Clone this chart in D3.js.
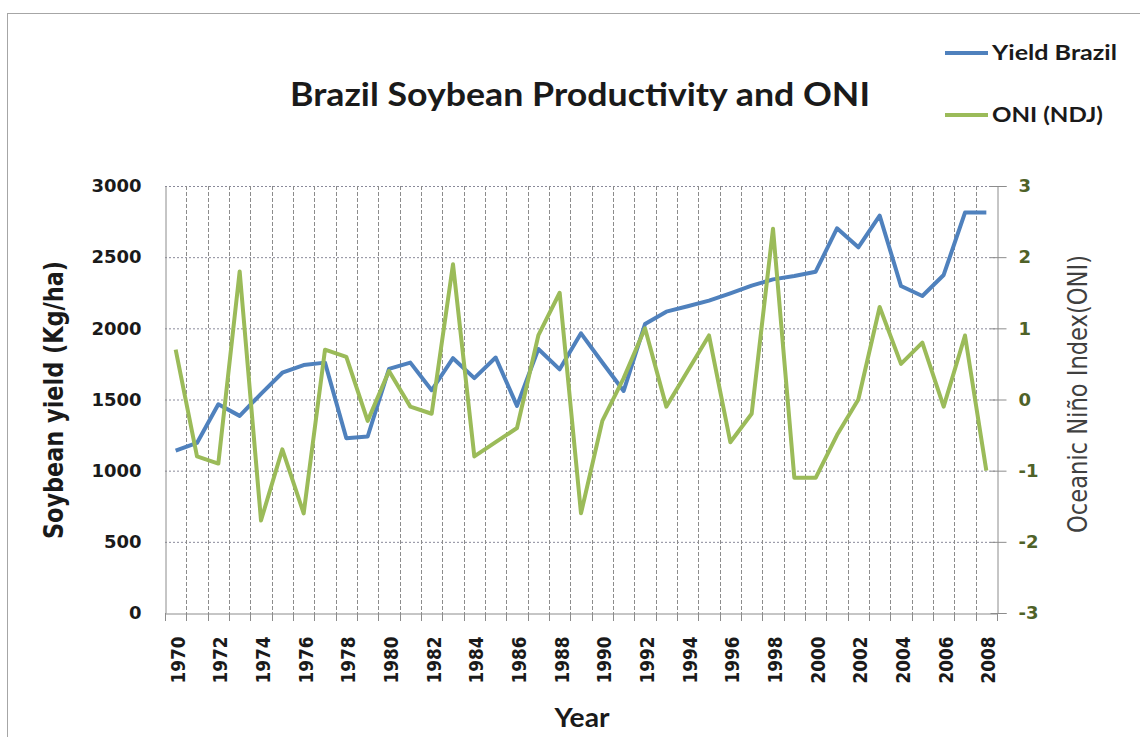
<!DOCTYPE html>
<html>
<head>
<meta charset="utf-8">
<script src="https://cdn.jsdelivr.net/npm/d3@7"></script>
<style>
  body { margin: 0; background: #fff; }
  svg { display: block; }
</style>
</head>
<body>
<svg id="chart" width="1140" height="737"></svg>
<script>
// categories
let years = [1970, 1971, 1972, 1973, 1974, 1975, 1976, 1977, 1978, 1979,
    1980, 1981, 1982, 1983, 1984, 1985, 1986, 1987, 1988, 1989,
    1990, 1991, 1992, 1993, 1994, 1995, 1996, 1997, 1998, 1999,
    2000, 2001, 2002, 2003, 2004, 2005, 2006, 2007, 2008];

// soybean yield, kg/ha (left axis)
let yieldBrazil = [1140, 1195, 1466, 1385, 1540, 1688, 1742, 1759, 1228, 1240,
    1715, 1759, 1565, 1790, 1650, 1795, 1455, 1855, 1712, 1965,
    1760, 1560, 2030, 2117, 2155, 2195, 2246, 2300, 2344, 2368,
    2398, 2703, 2569, 2792, 2297, 2227, 2375, 2813, 2813];

// ONI, NDJ season (right axis)
let oniNDJ = [0.7, -0.8, -0.9, 1.8, -1.7, -0.7, -1.6, 0.7, 0.6, -0.3,
    0.4, -0.1, -0.2, 1.9, -0.8, -0.6, -0.4, 0.9, 1.5, -1.6,
    -0.3, 0.3, 1.0, -0.1, 0.4, 0.9, -0.6, -0.2, 2.4, -1.1,
    -1.1, -0.5, 0.0, 1.3, 0.5, 0.8, -0.1, 0.9, -1.0];

let yieldTicks = [0, 500, 1000, 1500, 2000, 2500, 3000];
let oniTicks = [-3, -2, -1, 0, 1, 2, 3];
let yearLabels = years.filter((d, i) => i % 2 === 0);

let series = [
    {name: "Yield Brazil", color: "#4F81BD", width: 125},
    {name: "ONI (NDJ)", color: "#9BBB59", width: 111}
];

let plotLeft = 165, plotRight = 997, plotTop = 186, plotBottom = 613;

let svg = d3.select("#chart");

// outer frame
svg.append("rect")
    .attr("x", 7.5).attr("y", 13.5)
    .attr("width", 1140).attr("height", 737)
    .attr("fill", "none")
    .attr("stroke", "#a6a6a6");

let x = d3.scaleBand().domain(years).range([plotLeft, plotRight]).padding(0);
let yL = d3.scaleLinear().domain([0, 3000]).range([plotBottom, plotTop]);
let yR = d3.scaleLinear().domain([-3, 3]).range([plotBottom, plotTop]);

let cx = (d) => x(d) + x.bandwidth() / 2;

//gridlines
let grid = svg.append("g");
grid.selectAll("line.h")
    .data(yieldTicks.filter((d) => d > 0))
    .enter().append("line")
    .attr("class", "h")
    .attr("x1", plotLeft).attr("x2", plotRight)
    .attr("y1", (d) => yL(d) + 0.5).attr("y2", (d) => yL(d) + 0.5)
    .attr("stroke", "#8a8a9a")
    .attr("stroke-dasharray", "2,2");

grid.selectAll("line.v")
    .data(years.slice(1))
    .enter().append("line")
    .attr("class", "v")
    .attr("x1", (d) => Math.round(x(d)) + 0.5).attr("x2", (d) => Math.round(x(d)) + 0.5)
    .attr("y1", plotTop).attr("y2", plotBottom)
    .attr("stroke", "#8c8c8c")
    .attr("stroke-dasharray", "4,2");

// boundary ticks under x axis
grid.selectAll("line.t")
    .data(years.concat(["end"]))
    .enter().append("line")
    .attr("class", "t")
    .attr("x1", (d) => Math.round(d === "end" ? plotRight : x(d)) + 0.5)
    .attr("x2", (d) => Math.round(d === "end" ? plotRight : x(d)) + 0.5)
    .attr("y1", plotBottom).attr("y2", plotBottom + 8)
    .attr("stroke", "#8c8c8c");

// left axis
let axL = svg.append("g")
    .attr("transform", "translate(" + (plotLeft + 0.5) + ",0)")
    .call(d3.axisLeft(yL).tickValues(yieldTicks).tickFormat((d) => String(d))
        .tickSize(0).tickPadding(24));
axL.select(".domain").attr("stroke", "#8c8c8c");
axL.selectAll("text")
    .attr("font-family", "DejaVu Sans")
    .attr("font-weight", "bold")
    .attr("font-size", 18)
    .attr("fill", "#1a1a1a");

// right axis
let axR = svg.append("g")
    .attr("transform", "translate(" + (plotRight + 0.5) + ",0)")
    .call(d3.axisRight(yR).tickValues(oniTicks).tickFormat((d) => String(d))
        .tickSize(9).tickPadding(12));
axR.select(".domain").attr("stroke", "#8c8c8c");
axR.selectAll(".tick line").attr("x1", -7).attr("stroke", "#8c8c8c");
axR.selectAll("text")
    .attr("font-family", "DejaVu Sans")
    .attr("font-weight", "bold")
    .attr("font-size", 18)
    .attr("fill", "#4F6228");

// bottom axis
let axB = svg.append("g")
    .attr("transform", "translate(0," + (plotBottom + 0.5) + ")")
    .call(d3.axisBottom(x).tickValues(yearLabels).tickFormat((d) => String(d)).tickSize(0));
axB.select(".domain").attr("stroke", "#8c8c8c");
axB.selectAll("text")
    .attr("font-family", "DejaVu Sans")
    .attr("font-weight", "bold")
    .attr("font-size", 20)
    .attr("fill", "#1a1a1a")
    .attr("text-anchor", "end")
    .attr("dy", "0.35em")
    .attr("textLength", 47)
    .attr("lengthAdjust", "spacingAndGlyphs")
    .attr("transform", "translate(2,23) rotate(-90)")
    .attr("x", 0).attr("y", 0);

// lines
let lineL = d3.line().x((d, i) => cx(years[i])).y((d) => yL(d));
let lineR = d3.line().x((d, i) => cx(years[i])).y((d) => yR(d));

svg.append("path")
    .datum(yieldBrazil)
    .attr("d", lineL)
    .attr("fill", "none")
    .attr("stroke", series[0].color)
    .attr("stroke-width", 4)
    .attr("stroke-linejoin", "round");

svg.append("path")
    .datum(oniNDJ)
    .attr("d", lineR)
    .attr("fill", "none")
    .attr("stroke", series[1].color)
    .attr("stroke-width", 4)
    .attr("stroke-linejoin", "round");

// title
svg.append("text")
    .attr("x", 580).attr("y", 106)
    .attr("text-anchor", "middle")
    .attr("font-family", "Lato")
    .attr("font-weight", "bold")
    .attr("font-size", 32)
    .attr("fill", "#1a1a1a")
    .attr("textLength", 580)
    .attr("lengthAdjust", "spacingAndGlyphs")
    .text("Brazil Soybean Productivity and ONI");

// axis titles
svg.append("text")
    .attr("transform", "translate(63,400) rotate(-90)")
    .attr("text-anchor", "middle")
    .attr("font-family", "DejaVu Sans")
    .attr("font-weight", "bold")
    .attr("font-size", 26)
    .attr("fill", "#1a1a1a")
    .attr("textLength", 278)
    .attr("lengthAdjust", "spacingAndGlyphs")
    .text("Soybean yield (Kg/ha)");

svg.append("text")
    .attr("transform", "translate(1087,394) rotate(-90)")
    .attr("text-anchor", "middle")
    .attr("font-family", "DejaVu Sans")
    .attr("font-size", 26)
    .attr("fill", "#404040")
    .attr("textLength", 278)
    .attr("lengthAdjust", "spacingAndGlyphs")
    .text("Oceanic Niño Index(ONI)");

svg.append("text")
    .attr("x", 582).attr("y", 727)
    .attr("text-anchor", "middle")
    .attr("font-family", "Lato")
    .attr("font-weight", "bold")
    .attr("font-size", 26)
    .attr("fill", "#1a1a1a")
    .attr("textLength", 55)
    .attr("lengthAdjust", "spacingAndGlyphs")
    .text("Year");

// legend
let legend = svg.append("g")
    .selectAll("g")
    .data(series)
    .enter().append("g")
    .attr("transform", (d, i) => "translate(945," + (53 + i * 62) + ")");
legend.append("line")
    .attr("x1", 0).attr("x2", 43)
    .attr("stroke", (d) => d.color)
    .attr("stroke-width", 4);
legend.append("text")
    .attr("x", 47).attr("y", 7)
    .attr("font-family", "Lato")
    .attr("font-weight", "bold")
    .attr("font-size", 21)
    .attr("fill", "#1a1a1a")
    .attr("textLength", (d) => d.width)
    .attr("lengthAdjust", "spacingAndGlyphs")
    .text((d) => d.name);
</script>
</body>
</html>
